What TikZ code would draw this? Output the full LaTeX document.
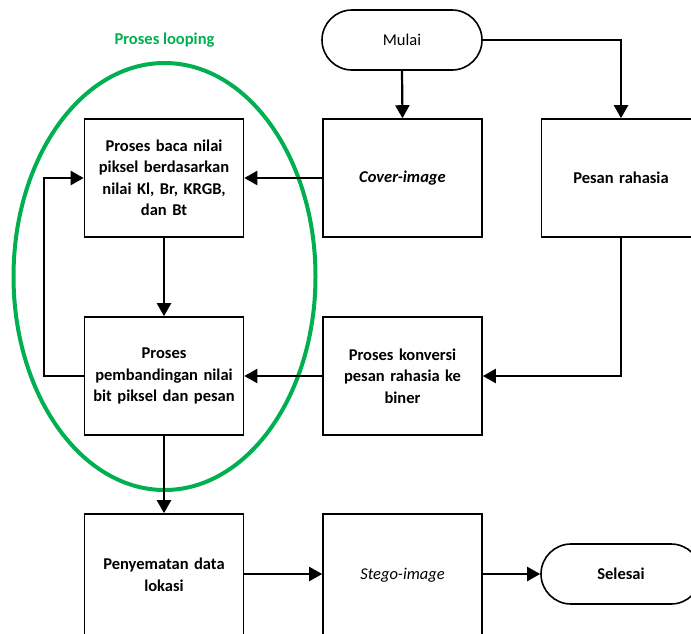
\documentclass[tikz,border=0pt]{standalone}
\usepackage{fontspec}
\setmainfont{Carlito}
\usetikzlibrary{arrows.meta,shapes.misc}
\definecolor{loopgreen}{RGB}{0,176,80}
\tikzset{
  fnt/.style={font=\fontsize{16.5}{21.5}\selectfont},
  box/.style={draw=black, line width=1.6pt, rectangle, minimum width=159pt, minimum height=118pt, align=center, text width=156pt, fnt, font=\fontsize{16.5}{21.5}\selectfont\bfseries, inner sep=0pt},
  term/.style={draw=black, line width=1.6pt, rounded rectangle, minimum width=160pt, minimum height=60pt, align=center, inner sep=0pt, fnt},
  conn/.style={line width=2.2pt, -{Triangle[length=13pt,width=14pt]}}
}
\begin{document}
\begin{tikzpicture}[x=1pt,y=-1pt]
\useasboundingbox (0,0) rectangle (691,633);
\begin{scope}
\clip (0,0) rectangle (691,633);
% nodes
\node[term] (mulai) at (402,40) {Mulai};
\node[box] (cover) at (402.5,178) {\itshape Cover-image};
\node[box] (pesan) at (621,178) {Pesan rahasia};
\node[box] (baca) at (164,178) {Proses baca nilai\\ piksel berdasarkan\\ nilai Kl, Br, KRGB,\\ dan Bt};
\node[box] (banding) at (164,376) {Proses\\ pembandingan nilai\\ bit piksel dan pesan};
\node[box] (konversi) at (402.5,376) {Proses konversi\\ pesan rahasia ke\\ biner};
\node[box, minimum height=122pt] (sisip) at (164,575) {Penyematan data\\ lokasi};
\node[box, minimum height=122pt, font=\fontsize{16.5}{21.5}\selectfont\itshape] (stego) at (402.5,575) {Stego-image};
\node[term, font=\fontsize{16.5}{21.5}\selectfont\bfseries] (selesai) at (621,574) {Selesai};
% green loop
\draw[loopgreen, line width=4pt] (164.5,276.5) ellipse [x radius=151, y radius=213.5];
\node[text=loopgreen, font=\fontsize{16.5}{21.5}\selectfont\bfseries] (looplbl) at (164.5,40) {Proses looping};
% connectors
\draw[conn] (mulai.south) -- (cover.north);
\draw[conn] (mulai.east) -| (pesan.north);
\draw[conn] (cover.west) -- (baca.east);
\draw[conn] (pesan.south) |- (konversi.east);
\draw[conn] (konversi.west) -- (banding.east);
\draw[conn] (baca.south) -- (banding.north);
\coordinate (lp) at (44,376);
\draw[conn] (banding.west) -- (lp) |- (baca.west);
\draw[conn] (banding.south) -- (sisip.north);
\draw[conn] (sisip.east |- selesai.west) -- (stego.west |- selesai.west);
\draw[conn] (stego.east |- selesai.west) -- (selesai.west);
\end{scope}
\end{tikzpicture}
\end{document}
